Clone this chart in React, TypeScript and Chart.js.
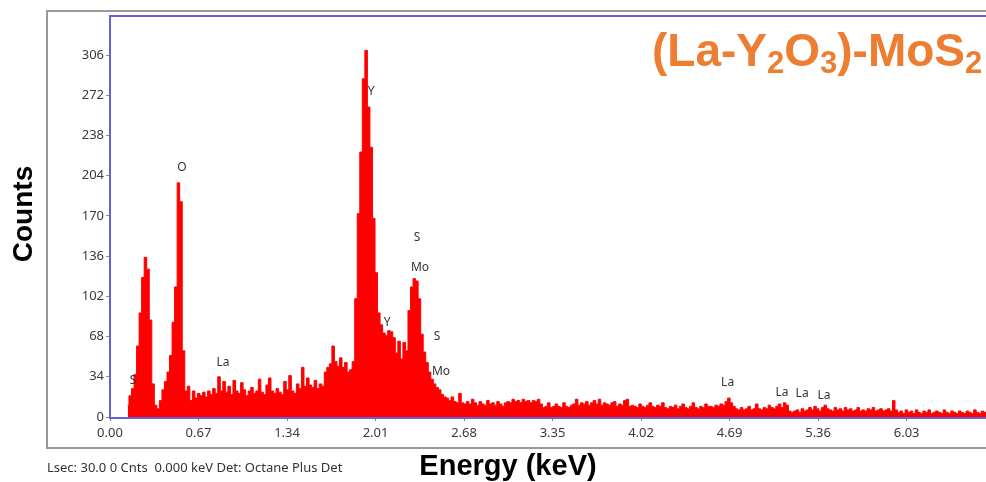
import React, { useEffect, useRef } from "react";
import { Chart, registerables } from "chart.js";

Chart.register(...registerables);

// Energy calibration of the channels (keV)
const E_START = 0.134;
const E_STEP = 0.0192;

// Counts per channel
const counts: number[] = [
  10, 18, 24, 36, 60, 88, 118, 135, 125, 82,
  28, 10, 7, 14, 23, 30, 38, 52, 80, 110,
  198, 182, 56, 22, 26, 14, 22, 16, 20, 18,
  21, 17, 22, 19, 24, 20, 34, 22, 30, 21,
  26, 19, 31, 22, 20, 29, 23, 18, 22, 25,
  20, 22, 32, 21, 19, 27, 33, 22, 20, 24,
  21, 19, 30, 23, 35, 22, 20, 28, 24, 42,
  26, 33, 27, 25, 31, 24, 28, 26, 38, 42,
  45, 60, 47, 43, 50, 42, 46, 38, 40, 47,
  100, 172, 224, 286, 310, 262, 228, 168, 122, 88,
  78, 71, 69, 73, 72, 67, 54, 64, 49, 63,
  56, 90, 110, 117, 115, 100, 70, 55, 46, 38,
  32, 28, 25, 23, 19, 17, 16, 14, 17, 13,
  12, 20, 12, 11, 13, 11, 15, 12, 10, 13,
  11, 10, 14, 11, 12, 10, 13, 11, 9, 12,
  13, 12, 15, 13, 14, 12, 15, 13, 14, 12,
  14, 13, 15, 11, 8, 9, 12, 8, 9, 11,
  9, 8, 12, 9, 8, 10, 11, 15, 10, 12,
  11, 13, 10, 12, 14, 11, 15, 10, 12, 11,
  10, 12, 13, 9, 11, 10, 14, 15, 9, 10,
  9, 8, 11, 9, 8, 10, 12, 9, 8, 10,
  9, 12, 8, 7, 9, 8, 10, 7, 9, 11,
  8, 7, 9, 12, 8, 7, 9, 8, 11, 9,
  9, 8, 10, 9, 11, 10, 13, 16, 12, 9,
  7, 6, 8, 6, 7, 9, 6, 7, 11, 7,
  6, 8, 7, 10, 8, 7, 9, 11, 8, 12,
  10, 5, 4, 5, 6, 4, 7, 5, 6, 8,
  6, 9, 7, 5, 8, 10, 7, 6, 5, 8,
  6, 7, 5, 8, 6, 7, 5, 6, 8, 5,
  6, 5, 7, 6, 8, 5, 6, 7, 5, 6,
  7, 5, 14, 6, 4, 5, 3, 6, 4, 5,
  3, 6, 4, 3, 5, 4, 6, 3, 4, 5,
  4, 3, 6, 4, 3, 5, 4, 3, 5, 4,
  3, 5, 4, 3, 6, 4, 3, 5, 4, 4,
];

const xTicks = [0, 0.67, 1.34, 2.01, 2.68, 3.35, 4.02, 4.69, 5.36, 6.03];
const yTicks = [0, 34, 68, 102, 136, 170, 204, 238, 272, 306];
const X_MAX = 6.631;
const Y_MAX = 339;

// Element markers
const peakLabels = ["S", "O", "La", "Y", "S", "Mo", "Y", "S", "Mo", "La", "La", "La", "La"];
const peakEnergies = [0.174, 0.545, 0.855, 1.976, 2.324, 2.347, 2.097, 2.475, 2.506, 4.675, 5.087, 5.239, 5.405];
const peakCounts = [30.4, 211, 45.6, 274.7, 152, 126, 79.5, 67.6, 38, 28.7, 20.3, 19.4, 17.8];

const W = 986;
const H = 482;
const TICK_FONT = "'Noto Sans', 'DejaVu Sans', sans-serif";
const LABEL_FONT = "'Noto Sans', 'DejaVu Sans', sans-serif";

const framePlugin = {
  id: "frames",
  beforeDraw(chart: any) {
    const ctx = chart.ctx;
    ctx.save();
    ctx.strokeStyle = "#9a9a9a";
    ctx.lineWidth = 2;
    ctx.beginPath();
    ctx.moveTo(W + 5, 11);
    ctx.lineTo(47, 11);
    ctx.lineTo(47, 448);
    ctx.lineTo(W + 5, 448);
    ctx.stroke();
    ctx.restore();
  },
  afterDraw(chart: any) {
    const { ctx, chartArea } = chart;
    ctx.save();
    ctx.strokeStyle = "#6262dc";
    ctx.lineWidth = 2;
    ctx.beginPath();
    ctx.moveTo(W + 5, chartArea.top);
    ctx.lineTo(chartArea.left, chartArea.top);
    ctx.lineTo(chartArea.left, chartArea.bottom + 1);
    ctx.lineTo(W + 5, chartArea.bottom + 1);
    ctx.stroke();
    ctx.restore();
  },
};

const peakLabelPlugin = {
  id: "peakLabels",
  afterDatasetsDraw(chart: any) {
    const { ctx, scales } = chart;
    ctx.save();
    ctx.font = `12px ${LABEL_FONT}`;
    ctx.fillStyle = "#333333";
    ctx.textAlign = "center";
    ctx.textBaseline = "middle";
    peakLabels.forEach((t, i) => {
      ctx.fillText(t, scales.x.getPixelForValue(peakEnergies[i]), scales.y.getPixelForValue(peakCounts[i]));
    });
    ctx.restore();
  },
};

export default function App() {
  const ref = useRef<HTMLCanvasElement | null>(null);

  useEffect(() => {
    if (!ref.current) return;
    const points = counts.map((c, i) => ({ x: +(E_START + i * E_STEP).toFixed(4), y: c }));
    const chart = new Chart(ref.current, {
      type: "line",
      data: {
        datasets: [
          {
            data: points,
            stepped: "middle",
            fill: "origin",
            backgroundColor: "#ff0000",
            borderColor: "#ff0000",
            borderWidth: 1,
            pointRadius: 0,
          },
        ],
      },
      options: {
        responsive: false,
        animation: false,
        layout: { padding: { top: 16, left: 0, right: 0, bottom: 0 } },
        plugins: { legend: { display: false }, tooltip: { enabled: false } },
        scales: {
          x: {
            type: "linear",
            min: 0,
            max: X_MAX,
            afterBuildTicks: (s: any) => {
              s.ticks = xTicks.map((v) => ({ value: v }));
            },
            afterFit: (s: any) => {
              s.height = 65;
            },
            border: { display: false },
            grid: { drawOnChartArea: false, drawTicks: true, tickLength: 4, color: "#888888" },
            ticks: {
              padding: 4,
              color: "#3a3a3a",
              font: { family: TICK_FONT, size: 13 },
              maxRotation: 0,
              autoSkip: false,
              callback: (v: any) => Number(v).toFixed(2),
            },
          },
          y: {
            type: "linear",
            min: 0,
            max: Y_MAX,
            afterBuildTicks: (s: any) => {
              s.ticks = yTicks.map((v) => ({ value: v }));
            },
            afterFit: (s: any) => {
              s.width = 110;
            },
            border: { display: false },
            grid: { drawOnChartArea: false, drawTicks: true, tickLength: 4, color: "#888888" },
            ticks: {
              padding: 2,
              color: "#3a3a3a",
              font: { family: TICK_FONT, size: 13 },
              autoSkip: false,
            },
          },
        },
      },
      plugins: [framePlugin, peakLabelPlugin],
    });
    return () => chart.destroy();
  }, []);

  const bold = "'Liberation Sans', Arial, sans-serif";
  const sub = { fontSize: 31, position: "relative" as const, top: 7 };
  return (
    <div style={{ position: "absolute", left: 0, top: 0, width: W, height: H, overflow: "hidden", background: "#fff" }}>
      <canvas ref={ref} width={W} height={H} style={{ position: "absolute", left: 0, top: 0 }} />
      <div
        style={{
          position: "absolute",
          left: 652,
          top: 27,
          fontFamily: bold,
          fontWeight: "bold",
          fontSize: 46,
          lineHeight: "46px",
          color: "#ED7D31",
          whiteSpace: "nowrap",
        }}
      >
        (La-Y<span style={sub}>2</span>O<span style={sub}>3</span>)-MoS<span style={sub}>2</span>
      </div>
      <div
        style={{
          position: "absolute",
          left: 23 - 100,
          top: 214 - 15,
          width: 200,
          height: 30,
          lineHeight: "30px",
          textAlign: "center",
          transform: "rotate(-90deg)",
          fontFamily: bold,
          fontWeight: "bold",
          fontSize: 28,
          color: "#000",
        }}
      >
        Counts
      </div>
      <div
        style={{
          position: "absolute",
          left: 508 - 150,
          top: 451,
          width: 300,
          lineHeight: "29px",
          textAlign: "center",
          fontFamily: bold,
          fontWeight: "bold",
          fontSize: 29,
          color: "#000",
        }}
      >
        Energy (keV)
      </div>
      <div
        style={{
          position: "absolute",
          left: 47,
          top: 458,
          fontFamily: LABEL_FONT,
          fontSize: 13,
          lineHeight: "18px",
          color: "#333",
          whiteSpace: "pre",
        }}
      >
        {"Lsec: 30.0 0 Cnts  0.000 keV Det: Octane Plus Det"}
      </div>
    </div>
  );
}
